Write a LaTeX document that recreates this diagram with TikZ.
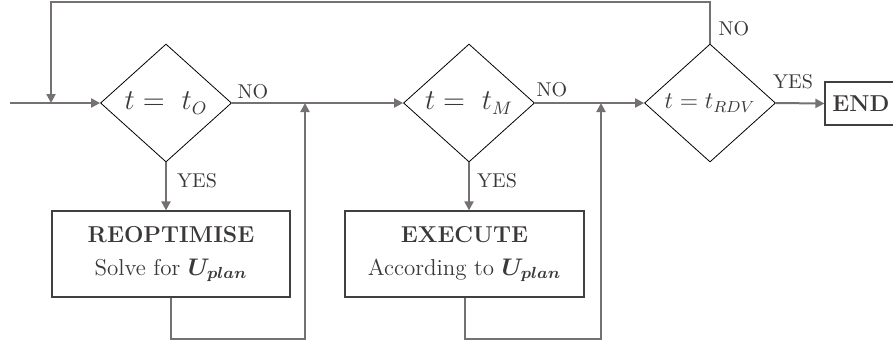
\documentclass[tikz,border=0pt]{standalone}
\usepackage{amsmath}
\usepackage{bm}
\usepackage{tikz}
\usetikzlibrary{shapes.geometric}
\usetikzlibrary{arrows.meta}
\usetikzlibrary{positioning}

\definecolor{linegray}{HTML}{767171}
\definecolor{boxgray}{HTML}{404040}
\definecolor{textgray}{HTML}{3B3838}

\tikzset{
	decision/.style={diamond, draw=black, line width=0.4pt, inner sep=0pt, aspect=1.1,
		minimum width=65.5pt, minimum height=59pt, text=textgray, font=\fontsize{13.5}{15}\selectfont},
	process/.style={rectangle, draw=boxgray, line width=0.6pt, align=center,
		minimum width=119pt, minimum height=43pt, text=textgray, font=\fontsize{11.5}{14}\selectfont},
	flow/.style={draw=linegray, line width=1pt},
	lbl/.style={text=textgray, inner sep=0pt, font=\fontsize{10}{12}\selectfont}
}

\begin{document}
\begin{tikzpicture}[x=0.5pt, y=-0.5pt, >={Triangle[width=4.5pt,length=4.5pt]}]
			\useasboundingbox (0,0) rectangle (893,345);
			\node[decision] (d1) at (166, 103) {$t =\ t_{O}$};
			\node[decision] (d2) at (469, 103) {$t =\ t_{M}$};
			\node[decision, font=\fontsize{12}{14}\selectfont] (d3) at (710, 103) {$t = t_{RDV}$};
			\node[process] (reopt) at (171, 254) {\textbf{REOPTIMISE}\\[2.5pt] Solve for $\bm{U_{plan}}$};
			\node[process, minimum width=119.5pt] (exec) at (464.5, 254) {\textbf{EXECUTE}\\[2.5pt] According to $\bm{U_{plan}}$};
			\node[process, minimum width=36pt, minimum height=21.5pt] (stop) at (861, 103.5) {\textbf{END}};
			\node[lbl] (no1) at (253, 92) {NO};
			\node[lbl] (yes1) at (197, 181) {YES};
			\node[lbl] (no2) at (552, 90) {NO};
			\node[lbl] (yes2) at (497, 181) {YES};
			\node[lbl] (no3) at (734, 29) {NO};
			\node[lbl] (yes3) at (793, 82) {YES};
			\coordinate (start) at (10, 103);
			\coordinate (j0) at (51, 103);
			\coordinate (tl) at (51, 2);
			\coordinate (m1) at (305, 103);
			\coordinate (m2) at (601, 103);
			\coordinate (r1) at (305, 339);
			\coordinate (r2) at (601, 339);
			\draw [flow, ->] (start) to (d1.west);
			\draw [flow, ->] (d1.east) to (d2.west);
			\draw [flow, ->] (d2.east) to (d3.west);
			\draw [flow, ->] (d3.east) to (stop.west);
			\draw [flow, ->] (d3.north) |- (tl) -- (j0);
			\draw [flow, ->] (d1.south) -- (d1.south |- reopt.north);
			\draw [flow, ->] (d2.south) -- (d2.south |- exec.north);
			\draw [flow, ->] (reopt.south) |- (r1) -- (m1);
			\draw [flow, ->] (exec.south) |- (r2) -- (m2);
			\end{tikzpicture}
\end{document}
